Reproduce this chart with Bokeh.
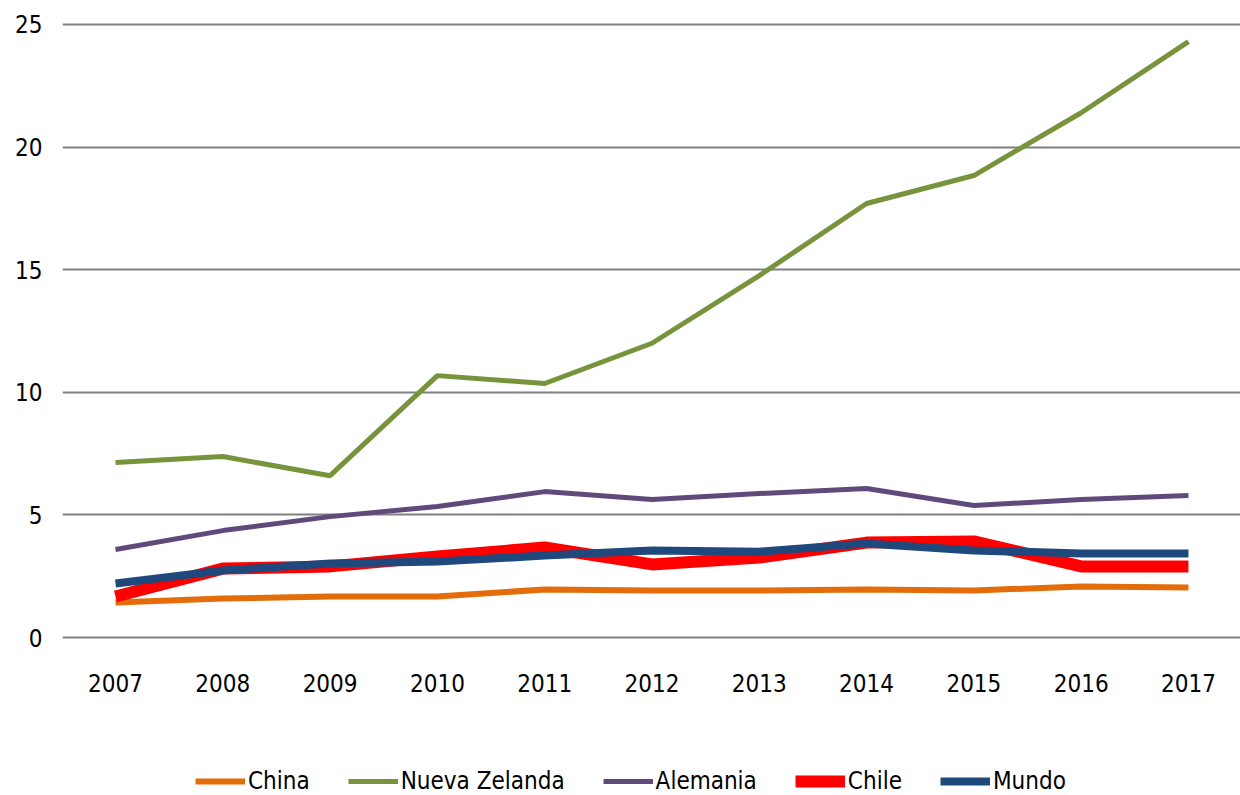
from bokeh.plotting import figure
from bokeh.models import Range1d, FixedTicker, Legend, LegendItem
from bokeh.layouts import column
from bokeh.embed import file_html
from bokeh.resources import INLINE

years = [2007, 2008, 2009, 2010, 2011, 2012, 2013, 2014, 2015, 2016, 2017]
china = [1.43, 1.59, 1.67, 1.67, 1.96, 1.92, 1.92, 1.96, 1.92, 2.08, 2.04]
nueva_zelanda = [7.14, 7.38, 6.60, 10.68, 10.36, 12.0, 14.76, 17.7, 18.84, 21.4, 24.3]
alemania = [3.59, 4.36, 4.93, 5.34, 5.95, 5.63, 5.87, 6.08, 5.38, 5.63, 5.79]
chile = [1.67, 2.81, 2.90, 3.30, 3.67, 2.98, 3.26, 3.87, 3.92, 2.90, 2.90]
mundo = [2.20, 2.73, 3.02, 3.10, 3.34, 3.55, 3.50, 3.83, 3.55, 3.43, 3.43]
y_ticks = [0, 5, 10, 15, 20, 25]

names = ["China", "Nueva Zelanda", "Alemania", "Chile", "Mundo"]
series = [china, nueva_zelanda, alemania, chile, mundo]
colors = ["#E46C0A", "#77933C", "#604A7B", "#FF0000", "#1F497D"]
widths = [6, 5, 5, 12, 8]

FONT = "'DejaVu Sans Condensed', 'Liberation Sans Narrow', sans-serif"

p = figure(width=1240, height=720, output_backend="svg", toolbar_location=None,
           x_range=Range1d(2006.506, 2017.485), y_range=Range1d(-0.326, 25.326),
           min_border_left=62, min_border_right=0, min_border_top=16, min_border_bottom=75)
p.outline_line_color = None
p.background_fill_color = "white"
p.border_fill_color = "white"

p.xgrid.grid_line_color = None
p.ygrid.grid_line_color = "#808080"
p.ygrid.grid_line_width = 2
p.yaxis.ticker = FixedTicker(ticks=y_ticks)
p.xaxis.ticker = FixedTicker(ticks=years)

for ax in (p.xaxis[0], p.yaxis[0]):
    ax.axis_line_color = None
    ax.major_tick_line_color = None
    ax.minor_tick_line_color = None
    ax.major_label_text_font = FONT
    ax.major_label_text_font_size = "24px"
    ax.major_label_text_color = "#000000"
p.yaxis.major_label_standoff = 14
p.xaxis.major_label_standoff = 22

for name, vals, c, w in zip(names, series, colors, widths):
    p.line(years, vals, line_color=c, line_width=w)

# legend strip below the chart (its lines lie outside its visible range)
lg = figure(width=1240, height=75, output_backend="svg", toolbar_location=None,
            x_range=Range1d(0, 1), y_range=Range1d(0, 1),
            x_axis_location=None, y_axis_location=None,
            min_border_left=62, min_border_right=0, min_border_top=0, min_border_bottom=0)
lg.outline_line_color = None
lg.grid.visible = False
lg.border_fill_color = "white"

items = []
for name, vals, c, w in zip(names, series, colors, widths):
    r = lg.line(years, vals, line_color=c, line_width=w)
    items.append(LegendItem(label=name, renderers=[r]))

legend = Legend(items=items, orientation="horizontal", location=(133, 0))
legend.padding = 0
legend.margin = 0
legend.spacing = 38
legend.glyph_width = 50
legend.glyph_height = 20
legend.label_standoff = 3
legend.label_text_font = FONT
legend.label_text_font_size = "24px"
legend.label_text_color = "#000000"
legend.border_line_color = None
legend.background_fill_alpha = 0
lg.add_layout(legend, "center")

open("out.html", "w").write(file_html(column(p, lg, spacing=0), INLINE))
